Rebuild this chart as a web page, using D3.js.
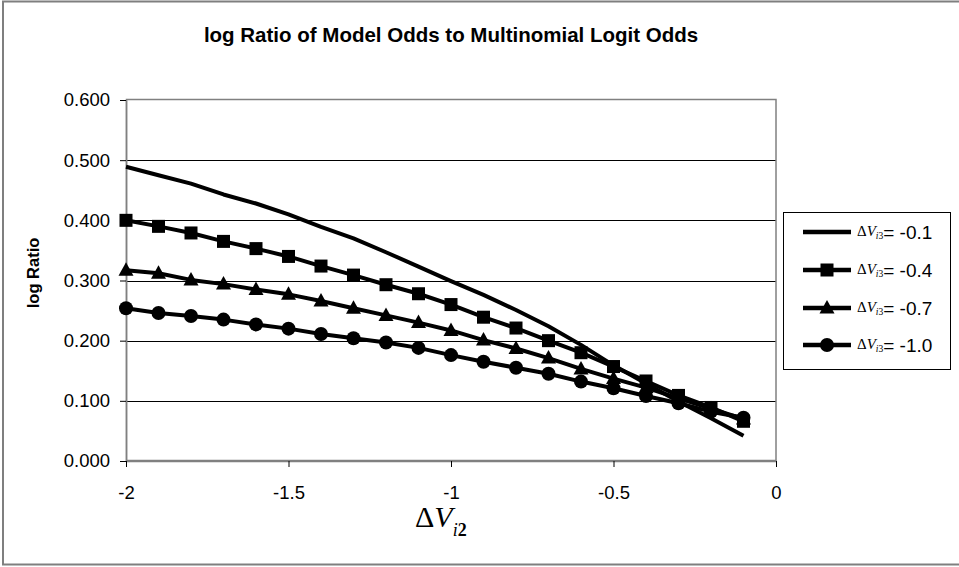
<!DOCTYPE html>
<html>
<head>
<meta charset="utf-8">
<script src="https://cdn.jsdelivr.net/npm/d3@7"></script>
<style>
  html, body { margin: 0; padding: 0; background: #fff; }
  svg { display: block; }
</style>
</head>
<body>
<svg id="chart" width="959" height="567"></svg>
<script>
// ---- data ----
const xValues = [-2.0, -1.9, -1.8, -1.7, -1.6, -1.5, -1.4, -1.3, -1.2, -1.1,
                 -1.0, -0.9, -0.8, -0.7, -0.6, -0.5, -0.4, -0.3, -0.2, -0.1];
const seriesNames = ["-0.1", "-0.4", "-0.7", "-1.0"];
const seriesMarkers = ["none", "square", "triangle", "circle"];
const dv01 = [0.489, 0.475, 0.461, 0.443, 0.428, 0.410, 0.389, 0.370, 0.347, 0.323,
              0.299, 0.276, 0.251, 0.224, 0.193, 0.159, 0.129, 0.099, 0.071, 0.042];
const dv04 = [0.400, 0.390, 0.379, 0.365, 0.353, 0.340, 0.324, 0.309, 0.293, 0.278,
              0.260, 0.239, 0.221, 0.200, 0.180, 0.157, 0.133, 0.109, 0.089, 0.066];
const dv07 = [0.317, 0.312, 0.301, 0.294, 0.285, 0.277, 0.266, 0.254, 0.242, 0.230,
              0.217, 0.201, 0.187, 0.171, 0.153, 0.137, 0.122, 0.104, 0.087, 0.070];
const dv10 = [0.254, 0.246, 0.241, 0.235, 0.227, 0.220, 0.211, 0.204, 0.197, 0.188,
              0.176, 0.165, 0.155, 0.145, 0.132, 0.121, 0.108, 0.096, 0.082, 0.072];
const seriesValues = [dv01, dv04, dv07, dv10];
const xTicks = [-2, -1.5, -1, -0.5, 0];
const xTickLabels = ["-2", "-1.5", "-1", "-0.5", "0"];
const yTicks = [0, 0.1, 0.2, 0.3, 0.4, 0.5, 0.6];
const yTickLabels = ["0.000", "0.100", "0.200", "0.300", "0.400", "0.500", "0.600"];
const titleText = "log Ratio of Model Odds to Multinomial Logit Odds";
const yTitle = "log Ratio";

// ---- layout ----
const svg = d3.select("#chart");
const plot = { left: 126, right: 776, top: 100, bottom: 461 };
const x = d3.scaleLinear().domain([-2, 0]).range([plot.left, plot.right]);
const y = d3.scaleLinear().domain([0, 0.6]).range([plot.bottom, plot.top]);
const fontAxis = "Arial, 'Liberation Sans', sans-serif";
const serif = "'Liberation Serif', 'Times New Roman', serif";

// outer chart border
svg.append("rect").attr("x", 3).attr("y", 1.5).attr("width", 960).attr("height", 563)
  .attr("fill", "#fff").attr("stroke", "#7f7f7f").attr("stroke-width", 2);

// title
svg.append("text").attr("x", 451).attr("y", 42).attr("text-anchor", "middle")
  .attr("font-family", fontAxis).attr("font-weight", "bold")
  .attr("font-size", 20.5).attr("fill", "#000").text(titleText);

// gridlines
svg.append("g").selectAll("line").data(yTicks.filter(d => d > 0 && d < 0.6)).join("line")
  .attr("x1", plot.left).attr("x2", plot.right)
  .attr("y1", d => Math.round(y(d)) + 0.5).attr("y2", d => Math.round(y(d)) + 0.5)
  .attr("stroke", "#000").attr("stroke-width", 1);

// plot area border
svg.append("rect").attr("x", plot.left + 0.5).attr("y", plot.top - 0.5)
  .attr("width", plot.right - plot.left - 0.5).attr("height", plot.bottom - plot.top)
  .attr("fill", "none").attr("stroke", "#808080").attr("stroke-width", 1.5);

// axes
const yAxis = d3.axisLeft(y).tickValues(yTicks).tickFormat((d, i) => yTickLabels[i])
  .tickSize(6).tickSizeOuter(0).tickPadding(10);
const gy = svg.append("g").attr("transform", `translate(${plot.left},0)`).call(yAxis);
gy.select(".domain").attr("stroke", "#808080").attr("stroke-width", 1.5);
gy.selectAll(".tick line").attr("stroke", "#000");
gy.selectAll("text").attr("font-family", fontAxis).attr("font-size", 18.5).attr("fill", "#000");

const xAxis = d3.axisBottom(x).tickValues(xTicks).tickFormat((d, i) => xTickLabels[i])
  .tickSize(6).tickSizeOuter(0).tickPadding(19);
const gx = svg.append("g").attr("transform", `translate(0,${plot.bottom})`).call(xAxis);
gx.select(".domain").attr("stroke", "#808080").attr("stroke-width", 1.5);
gx.selectAll(".tick line").attr("stroke", "#000");
gx.selectAll("text").attr("font-family", fontAxis).attr("font-size", 18.5).attr("fill", "#000");

// y title
svg.append("text").attr("transform", "translate(39,273) rotate(-90)")
  .attr("text-anchor", "middle").attr("font-family", fontAxis).attr("font-weight", "bold")
  .attr("font-size", 16.5).attr("fill", "#000").text(yTitle);

// x title  ΔV_i2
const xt = svg.append("text").attr("x", 415).attr("y", 527)
  .attr("font-family", serif).attr("font-size", 30).attr("fill", "#000");
xt.append("tspan").text("Δ");
xt.append("tspan").attr("font-style", "italic").text("V");
xt.append("tspan").attr("font-style", "italic").attr("font-size", 18).attr("dy", 9).text("i");
xt.append("tspan").attr("font-weight", "bold").attr("font-size", 18).text("2");

// series
const line = d3.line().x((d, i) => x(xValues[i])).y(d => y(d));
function drawMarker(g, kind, cx, cy) {
  if (kind === "square") {
    g.append("rect").attr("x", cx - 6.5).attr("y", cy - 6.5).attr("width", 13).attr("height", 13).attr("fill", "#000");
  } else if (kind === "triangle") {
    g.append("path").attr("d", `M${cx},${cy - 8} L${cx + 7.5},${cy + 5.5} L${cx - 7.5},${cy + 5.5} Z`).attr("fill", "#000");
  } else if (kind === "circle") {
    g.append("circle").attr("cx", cx).attr("cy", cy).attr("r", 7).attr("fill", "#000");
  }
}
const seriesG = svg.append("g");
[3, 2, 1, 0].forEach(k => {
  const g = seriesG.append("g");
  g.append("path").datum(seriesValues[k]).attr("d", line)
    .attr("fill", "none").attr("stroke", "#000").attr("stroke-width", 4)
    .attr("stroke-linejoin", "round");
  seriesValues[k].forEach((v, i) => drawMarker(g, seriesMarkers[k], x(xValues[i]), y(v)));
});

// legend
const leg = svg.append("g");
leg.append("rect").attr("x", 783.5).attr("y", 212.5).attr("width", 167).attr("height", 157)
  .attr("fill", "#fff").attr("stroke", "#000").attr("stroke-width", 1);
const legY = [232, 270, 308, 345];
seriesNames.forEach((name, k) => {
  const cy = legY[k];
  leg.append("line").attr("x1", 803).attr("x2", 851).attr("y1", cy).attr("y2", cy)
    .attr("stroke", "#000").attr("stroke-width", 4.5);
  drawMarker(leg, seriesMarkers[k], 827, cy);
  const t = leg.append("text").attr("x", 857).attr("y", cy + 6).attr("fill", "#000");
  t.append("tspan").attr("font-family", serif).attr("font-size", 15).attr("dy", -2).text("Δ");
  t.append("tspan").attr("font-family", serif).attr("font-size", 15).attr("font-style", "italic").text("V");
  t.append("tspan").attr("font-family", serif).attr("font-size", 9.5).attr("font-style", "italic").attr("dy", 3).text("i");
  t.append("tspan").attr("font-family", serif).attr("font-size", 9.5).text("3");
  t.append("tspan").attr("font-family", fontAxis).attr("font-size", 19).attr("dy", 0).text("= " + name);
});
</script>
</body>
</html>
